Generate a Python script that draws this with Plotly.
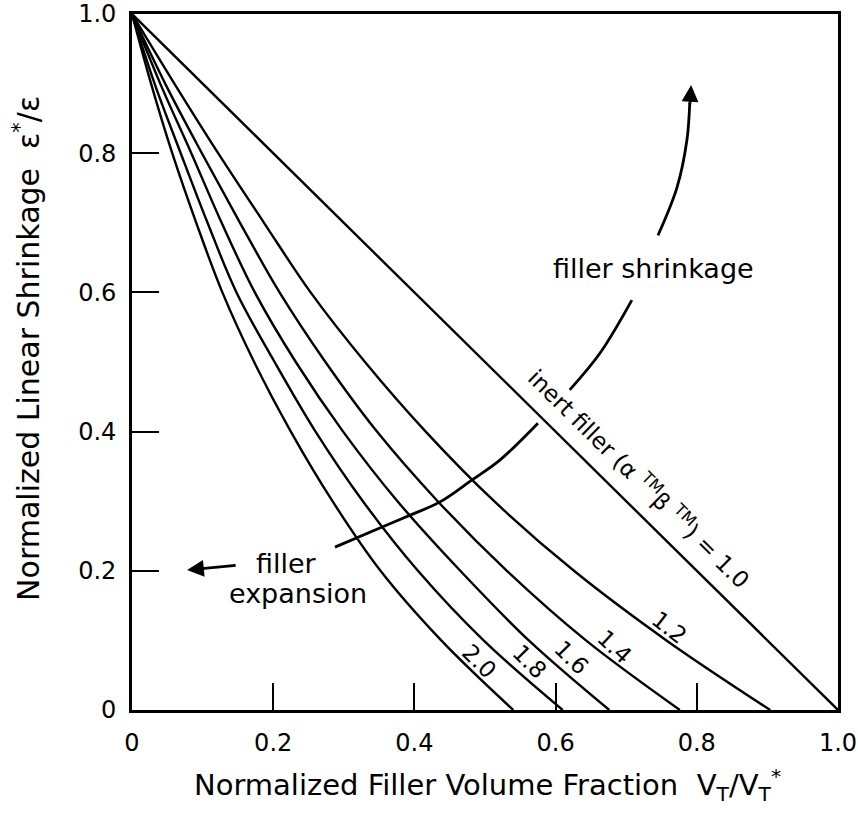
import plotly.graph_objects as go

# ---- data (x position of each curve at given y levels) ----
y_levels = [1.0, 0.9, 0.8, 0.7, 0.6, 0.5, 0.4, 0.3, 0.2, 0.1, 0.0]
x_ratio_2_0 = [0.0, 0.027, 0.057, 0.091, 0.128, 0.173, 0.225, 0.284, 0.352, 0.438, 0.54]
x_ratio_1_8 = [0.0, 0.032, 0.069, 0.107, 0.148, 0.202, 0.26, 0.327, 0.405, 0.498, 0.61]
x_ratio_1_6 = [0.0, 0.04, 0.084, 0.127, 0.174, 0.232, 0.299, 0.376, 0.465, 0.562, 0.676]
x_ratio_1_4 = [0.0, 0.047, 0.099, 0.153, 0.209, 0.274, 0.347, 0.433, 0.531, 0.643, 0.776]
x_ratio_1_2 = [0.0, 0.06, 0.122, 0.187, 0.253, 0.33, 0.416, 0.513, 0.626, 0.757, 0.904]
x_ratio_1_0 = [0.0, 0.1, 0.2, 0.3, 0.4, 0.5, 0.6, 0.7, 0.8, 0.9, 1.0]

curve_labels = ["2.0", "1.8", "1.6", "1.4", "1.2"]
label_x = [0.4915, 0.5637, 0.623, 0.684, 0.762]
label_y = [0.0704, 0.069, 0.0747, 0.0905, 0.118]
label_angle = [45, 45, 45, 43, 38]

tick_vals = [0, 0.2, 0.4, 0.6, 0.8, 1.0]
tick_text = ["0", "0.2", "0.4", "0.6", "0.8", "1.0"]

# curved "filler shrinkage" arrow path (drawn in three pieces around the texts)
arrow_seg1_x = [0.2875, 0.351, 0.394, 0.4363, 0.4816, 0.521, 0.575]
arrow_seg1_y = [0.234, 0.2615, 0.280, 0.299, 0.3305, 0.359, 0.412]
arrow_seg2_x = [0.620, 0.663, 0.708]
arrow_seg2_y = [0.460, 0.513, 0.589]
arrow_seg3_x = [0.745, 0.772, 0.786, 0.790]
arrow_seg3_y = [0.682, 0.751, 0.819, 0.872]

FONT = "DejaVu Sans, Liberation Sans, Arial, sans-serif"
LINE_W = 2.4

fig = go.Figure()
for xs in [x_ratio_2_0, x_ratio_1_8, x_ratio_1_6, x_ratio_1_4, x_ratio_1_2]:
    fig.add_trace(go.Scatter(x=xs, y=y_levels, mode="lines",
                             line=dict(color="black", width=LINE_W, shape="spline", smoothing=1.0),
                             showlegend=False, hoverinfo="skip"))
fig.add_trace(go.Scatter(x=x_ratio_1_0, y=y_levels, mode="lines",
                         line=dict(color="black", width=LINE_W), showlegend=False, hoverinfo="skip"))

for sx, sy in [(arrow_seg1_x, arrow_seg1_y), (arrow_seg2_x, arrow_seg2_y), (arrow_seg3_x, arrow_seg3_y)]:
    fig.add_trace(go.Scatter(x=sx, y=sy, mode="lines",
                             line=dict(color="black", width=2.8, shape="spline"),
                             showlegend=False, hoverinfo="skip"))

annotations = []
for t, lx, ly, a in zip(curve_labels, label_x, label_y, label_angle):
    annotations.append(dict(x=lx, y=ly, xref="x", yref="y", text=t, showarrow=False,
                            textangle=a, font=dict(family=FONT, size=23, color="black")))

annotations.append(dict(x=0.7195, y=0.3333, xref="x", yref="y",
                        text="inert filler (α <sup>TM</sup>β <sup>TM</sup>) = 1.0",
                        showarrow=False, textangle=44.6,
                        font=dict(family=FONT, size=23, color="black")))
annotations.append(dict(x=0.738, y=0.635, xref="x", yref="y", text="filler shrinkage",
                        showarrow=False, font=dict(family=FONT, size=27, color="black")))
annotations.append(dict(x=0.2195, y=0.211, xref="x", yref="y", text="filler",
                        showarrow=False, font=dict(family=FONT, size=27, color="black")))
annotations.append(dict(x=0.235, y=0.168, xref="x", yref="y", text="expansion",
                        showarrow=False, font=dict(family=FONT, size=27, color="black")))
# left-pointing arrow (filler expansion)
annotations.append(dict(x=0.078, y=0.201, xref="x", yref="y", ax=0.149, ay=0.208,
                        axref="x", ayref="y", text="", showarrow=True,
                        arrowhead=2, arrowsize=1.2, arrowwidth=2.8, arrowcolor="black"))
# arrow head for the curved arrow
annotations.append(dict(x=0.792, y=0.898, xref="x", yref="y", ax=0.790, ay=0.868,
                        axref="x", ayref="y", text="", showarrow=True,
                        arrowhead=2, arrowsize=1.2, arrowwidth=2.8, arrowcolor="black"))

# axis titles
annotations.append(dict(x=0.504, y=-0.108, xref="paper", yref="paper",
                        text="Normalized Filler Volume Fraction  V<sub>T</sub>/V<sub>T</sub><sup>*</sup>",
                        showarrow=False, xanchor="center", yanchor="middle",
                        font=dict(family=FONT, size=29, color="black")))
annotations.append(dict(x=-0.149, y=0.52, xref="paper", yref="paper",
                        text="Normalized Linear Shrinkage  ε<sup>*</sup>/ε",
                        showarrow=False, textangle=-90, xanchor="center", yanchor="middle",
                        font=dict(family=FONT, size=30, color="black")))

axis_common = dict(range=[0, 1.0], showgrid=False, zeroline=False,
                   showline=True, linecolor="black", linewidth=2.6, mirror=True,
                   ticks="inside", ticklen=27, tickwidth=2, tickcolor="black",
                   tickvals=tick_vals, ticktext=tick_text,
                   tickfont=dict(family=FONT, size=24, color="black"))

fig.update_layout(
    width=858, height=814,
    margin=dict(l=132, r=20, t=14, b=104, autoexpand=False),
    paper_bgcolor="white", plot_bgcolor="white",
    xaxis=dict(**axis_common, ticklabelstandoff=9),
    yaxis=dict(**axis_common, ticklabelstandoff=8),
    annotations=annotations,
    showlegend=False,
)

fig.write_html("out.html")
